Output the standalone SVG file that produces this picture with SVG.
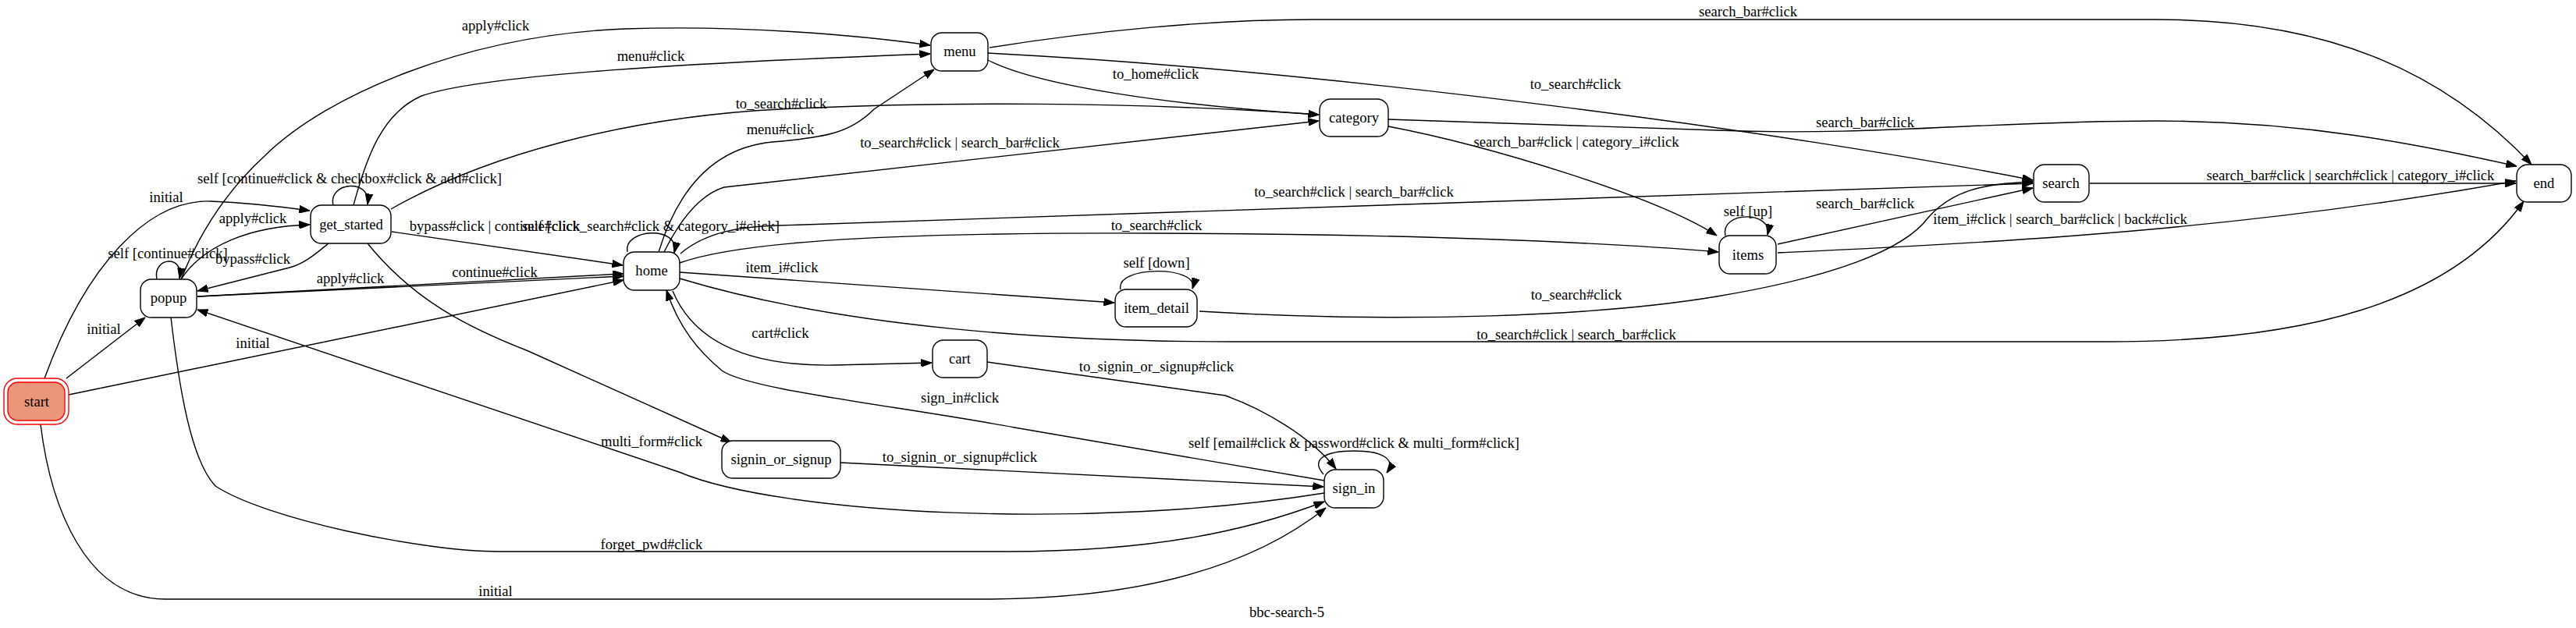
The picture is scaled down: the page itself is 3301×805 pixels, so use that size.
<svg xmlns="http://www.w3.org/2000/svg" width="3301" height="805" viewBox="0 0 3301 805">
<style>
text{font-family:"Liberation Serif","Times New Roman",serif;font-size:18.6px;text-anchor:middle;fill:#000}
.n rect{fill:#fff;stroke:#000;stroke-width:1.4}
#edges path{fill:none;stroke:#000;stroke-width:1.4;marker-end:url(#arr)}
</style>
<defs>
<marker id="arr" markerUnits="userSpaceOnUse" markerWidth="14" markerHeight="10" refX="13.6" refY="5" orient="auto" viewBox="0 0 14 10">
<path d="M0,0.2 L13.6,5 L0,9.8 z" fill="#000" stroke="#000" stroke-width="1"/>
</marker>
</defs>
<rect width="3301" height="805" fill="#fff"/>
<g id="edges">
<path d="M57,485 C110,340 190,255 270,258 C320,260 360,265 397,270"/>
<path d="M85,485 L186,407"/>
<path d="M88,506 L799,359"/>
<path d="M52,544 C65,650 110,768 212,768 L1259,768 C1450,768 1600,730 1699,651"/>
<path d="M201,358 C195,330 236,325 230,357"/>
<path d="M232,358 C260,315 320,290 397,288"/>
<path d="M421,312 C405,325 390,338 371,343 L253,373"/>
<path d="M232,358 C255,300 290,245 339,200 C420,120 600,45 800,37 C950,32 1100,45 1192,58"/>
<path d="M253,380 L799,354"/>
<path d="M253,380 C400,372 600,360 799,351"/>
<path d="M219,407 C230,500 245,590 276,623 C340,665 540,707 640,707 L1290,707 C1480,707 1600,680 1697,643"/>
<path d="M427,263 C420,233 476,228 471,262"/>
<path d="M453,263 C470,200 490,145 540,123 C620,95 900,80 1192,69"/>
<path d="M501,268 C620,200 800,150 1000,140 C1200,130 1450,130 1690,147"/>
<path d="M502,297 L798,340"/>
<path d="M471,312 C530,385 600,420 677,450 L937,567"/>
<path d="M1697,632 C1400,680 1000,660 870,605 L253,397"/>
<path d="M804,323 C798,293 872,288 864,324"/>
<path d="M844,323 C865,255 905,190 990,182 C1060,176 1090,170 1120,140 L1197,89"/>
<path d="M851,323 C870,285 895,250 928,240 L1690,155"/>
<path d="M872,325 C905,297 950,290 1000,289 L2605,235"/>
<path d="M871,337 C960,305 1200,298 1480,299 C1800,300 2050,310 2202,323"/>
<path d="M871,349 L1428,388"/>
<path d="M871,357 C1080,420 1350,438 1580,438 L2700,438 C2950,438 3140,390 3234,258"/>
<path d="M862,373 C890,440 960,470 1070,468 C1120,467 1160,466 1194,465"/>
<path d="M1436,371 C1428,340 1538,340 1528,370"/>
<path d="M1537,399 C1800,415 2050,405 2200,380 C2350,355 2440,320 2470,280 C2500,245 2540,235 2605,233"/>
<path d="M1265,464 L1570,507 C1620,525 1680,560 1712,601"/>
<path d="M1697,616 L1300,548 C1150,520 960,500 925,475 C895,450 870,420 854,372"/>
<path d="M1077,593 L1696,624"/>
<path d="M1696,608 C1678,588 1700,578 1735,578 C1770,578 1790,588 1777,606"/>
<path d="M1266,77 C1330,110 1500,135 1690,147"/>
<path d="M1266,68 C1700,90 2300,170 2605,231"/>
<path d="M1268,61 C1400,40 1550,25 1682,25 L2762,25 C2980,25 3130,90 3244,211"/>
<path d="M1779,153 L2200,167 C2400,175 2550,155 2762,155 C2950,155 3100,185 3225,213"/>
<path d="M1779,162 C1900,185 2120,250 2200,302"/>
<path d="M2211,302 C2204,270 2272,270 2265,301"/>
<path d="M2278,313 L2605,241"/>
<path d="M2278,324 C2600,310 2900,290 3224,232"/>
<path d="M2678,235 L3224,235"/>
</g>
<g id="edge-labels">
<text x="213" y="259">initial</text>
<text x="133" y="428">initial</text>
<text x="324" y="446">initial</text>
<text x="635" y="764">initial</text>
<text x="215" y="331">self [continue#click]</text>
<text x="324" y="286">apply#click</text>
<text x="324" y="338">bypass#click</text>
<text x="635" y="39">apply#click</text>
<text x="449" y="363">apply#click</text>
<text x="634" y="355">continue#click</text>
<text x="448" y="235">self [continue#click &amp; checkbox#click &amp; add#click]</text>
<text x="834" y="78">menu#click</text>
<text x="1001" y="139">to_search#click</text>
<text x="634" y="296">bypass#click | continue#click</text>
<text x="835" y="572">multi_form#click</text>
<text x="835" y="704">forget_pwd#click</text>
<text x="834" y="296">self [click_search#click &amp; category_i#click]</text>
<text x="1000" y="172">menu#click</text>
<text x="1230" y="189">to_search#click | search_bar#click</text>
<text x="1735" y="252">to_search#click | search_bar#click</text>
<text x="1482" y="295">to_search#click</text>
<text x="1002" y="349">item_i#click</text>
<text x="2020" y="435">to_search#click | search_bar#click</text>
<text x="1000" y="433">cart#click</text>
<text x="1482" y="343">self [down]</text>
<text x="2020" y="384">to_search#click</text>
<text x="1482" y="476">to_signin_or_signup#click</text>
<text x="1230" y="516">sign_in#click</text>
<text x="1230" y="592">to_signin_or_signup#click</text>
<text x="1735" y="574">self [email#click &amp; password#click &amp; multi_form#click]</text>
<text x="1481" y="101">to_home#click</text>
<text x="2019" y="114">to_search#click</text>
<text x="2240" y="21">search_bar#click</text>
<text x="2390" y="163">search_bar#click</text>
<text x="2020" y="188">search_bar#click | category_i#click</text>
<text x="2240" y="277">self [up]</text>
<text x="2390" y="267">search_bar#click</text>
<text x="2640" y="287">item_i#click | search_bar#click | back#click</text>
<text x="3012" y="231">search_bar#click | search#click | category_i#click</text>
</g>
<g id="start">
<rect x="5" y="485" width="83" height="59" rx="17" fill="#fff" stroke="#ff0000" stroke-width="1.4"/>
<rect x="10" y="490" width="73" height="49" rx="13" fill="#e9967a" stroke="#ff0000" stroke-width="1.4"/>
<text x="47" y="521">start</text>
</g>
<g id="popup" class="n"><rect x="180" y="358" width="72" height="49" rx="14"/><text x="216" y="388">popup</text></g>
<g id="get_started" class="n"><rect x="398" y="263" width="103" height="49" rx="14"/><text x="450" y="294">get_started</text></g>
<g id="home" class="n"><rect x="799" y="323" width="72" height="49" rx="14"/><text x="835" y="353">home</text></g>
<g id="menu" class="n"><rect x="1193" y="42" width="73" height="49" rx="14"/><text x="1230" y="72">menu</text></g>
<g id="category" class="n"><rect x="1691" y="127" width="88" height="48" rx="14"/><text x="1735" y="157">category</text></g>
<g id="cart" class="n"><rect x="1195" y="436" width="70" height="48" rx="14"/><text x="1230" y="466">cart</text></g>
<g id="item_detail" class="n"><rect x="1429" y="371" width="105" height="48" rx="14"/><text x="1482" y="401">item_detail</text></g>
<g id="signin_or_signup" class="n"><rect x="925" y="565" width="152" height="48" rx="14"/><text x="1001" y="595">signin_or_signup</text></g>
<g id="sign_in" class="n"><rect x="1697" y="602" width="76" height="49" rx="14"/><text x="1735" y="632">sign_in</text></g>
<g id="items" class="n"><rect x="2203" y="302" width="73" height="49" rx="14"/><text x="2240" y="333">items</text></g>
<g id="search" class="n"><rect x="2606" y="211" width="71" height="48" rx="14"/><text x="2641" y="241">search</text></g>
<g id="end" class="n"><rect x="3225" y="211" width="70" height="48" rx="14"/><text x="3260" y="241">end</text></g>
<text x="1649" y="791">bbc-search-5</text>
</svg>
